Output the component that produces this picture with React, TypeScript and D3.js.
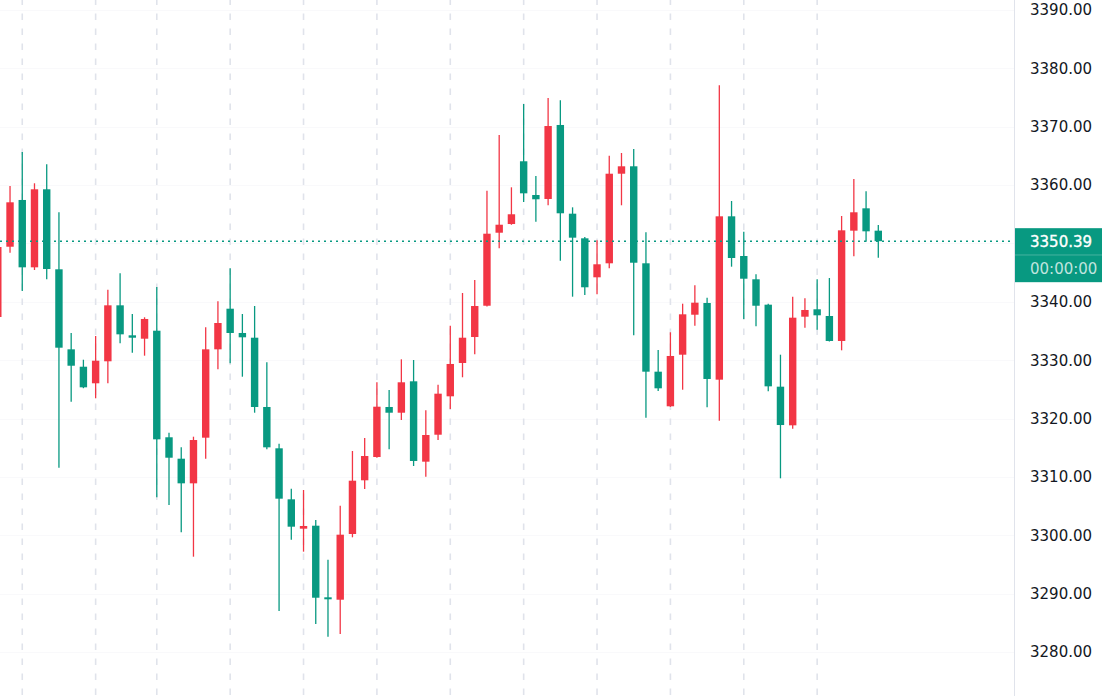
import React from 'react';
import * as d3 from 'd3';

const W = 1102;
const H = 696;

// OHLC series (red = up, green = down)
const openP = [
  3337.4, 3349.44, 3357.45, 3345.91, 3359.28, 3345.57, 3331.86, 3328.88, 3326.04, 3329.81,
  3339.4, 3334.26, 3333.68, 3335.05, 3316.79, 3313.12, 3308.9, 3316.72, 3331.86, 3338.82,
  3334.66, 3333.85, 3321.98, 3314.9, 3306.16, 3301.13, 3301.64, 3289.37, 3288.96, 3300.22,
  3309.42, 3313.41, 3321.98, 3321.0, 3326.38, 3312.61, 3317.23, 3323.81, 3329.52, 3333.97,
  3339.33, 3351.84, 3353.33, 3364.08, 3358.3, 3357.62, 3370.3, 3355.1, 3350.88, 3344.2,
  3346.6, 3361.95, 3363.22, 3346.6, 3328.03, 3322.1, 3330.94, 3337.79, 3339.8, 3326.66,
  3354.65, 3347.85, 3343.86, 3339.51, 3325.46, 3318.84, 3337.45, 3338.72, 3337.57, 3333.29,
  3352.19, 3356.02, 3352.19,
];
const highP = [
  3350.2, 3359.84, 3365.67, 3360.31, 3363.56, 3355.34, 3334.66, 3330.08, 3334.14, 3342.08,
  3344.89, 3337.91, 3337.35, 3342.54, 3317.57, 3315.07, 3316.89, 3335.63, 3340.09, 3345.74,
  3337.91, 3339.28, 3329.64, 3315.69, 3307.98, 3307.76, 3302.62, 3295.81, 3305.07, 3314.44,
  3316.67, 3326.21, 3324.89, 3330.15, 3330.03, 3321.41, 3325.8, 3335.91, 3341.51, 3343.74,
  3359.04, 3368.58, 3359.62, 3373.89, 3361.56, 3374.92, 3374.53, 3356.19, 3351.11, 3350.54,
  3365.04, 3365.5, 3366.18, 3351.91, 3331.74, 3334.78, 3339.68, 3342.83, 3340.71, 3377.1,
  3357.27, 3352.01, 3344.71, 3339.68, 3330.94, 3340.88, 3340.6, 3343.86, 3344.08, 3354.7,
  3361.04, 3358.94, 3353.16,
];
const lowP = [
  3337.2, 3348.42, 3341.85, 3345.45, 3343.86, 3311.58, 3322.89, 3325.2, 3323.47, 3326.04,
  3332.89, 3331.28, 3330.77, 3306.51, 3305.19, 3300.51, 3296.33, 3313.12, 3328.44, 3329.47,
  3327.17, 3321.0, 3314.73, 3287.02, 3299.24, 3297.19, 3284.8, 3282.62, 3283.08, 3299.65,
  3307.93, 3313.3, 3314.73, 3319.75, 3311.87, 3310.04, 3316.32, 3321.64, 3327.07, 3331.01,
  3339.2, 3349.17, 3353.2, 3357.1, 3353.73, 3356.54, 3347.05, 3340.88, 3341.17, 3341.29,
  3345.74, 3356.54, 3334.26, 3320.14, 3324.72, 3322.0, 3324.94, 3335.91, 3321.93, 3319.63,
  3346.02, 3337.06, 3335.81, 3324.67, 3309.76, 3318.26, 3335.57, 3335.22, 3333.2, 3331.69,
  3347.8, 3350.3, 3347.56,
];
const closeP = [
  3349.39, 3357.05, 3345.91, 3359.28, 3345.62, 3332.14, 3329.05, 3325.35, 3329.91, 3339.4,
  3334.43, 3333.85, 3337.06, 3316.44, 3313.29, 3308.9, 3316.32, 3331.86, 3336.37, 3334.66,
  3333.92, 3321.98, 3315.07, 3306.27, 3301.47, 3301.59, 3289.3, 3289.03, 3300.1, 3309.35,
  3313.58, 3322.03, 3321.0, 3326.21, 3312.73, 3317.18, 3324.26, 3329.35, 3333.85, 3339.28,
  3351.67, 3353.21, 3355.0, 3358.59, 3357.57, 3370.12, 3355.17, 3350.99, 3342.49, 3346.43,
  3361.95, 3363.22, 3346.7, 3328.03, 3325.18, 3330.72, 3337.86, 3339.85, 3326.78, 3354.65,
  3347.51, 3343.96, 3339.33, 3325.52, 3318.89, 3337.28, 3338.6, 3337.69, 3333.29, 3352.25,
  3355.34, 3352.08, 3350.39,
];

const priceTicks = [3280, 3290, 3300, 3310, 3320, 3330, 3340, 3350, 3360, 3370, 3380, 3390];
const gridBars = [2, 8, 13, 19, 25, 31, 37, 43, 49, 55, 61, 67];
const lastPrice = 3350.39;
const countdown = '00:00:00';

const UP = '#F23645';
const DOWN = '#089981';
const FONT = 'DejaVu Sans, sans-serif';

export default function App() {
  const n = openP.length;
  const x = d3.scaleLinear().domain([0, n - 1]).range([-2.2, 878.3]);
  const y = d3.scaleLinear().domain([3280, 3390]).range([652, 10]);
  const axisX = 1014.5;
  const bodyW = 7.4;
  const yl = y(lastPrice);
  const fmt = d3.format('.2f');
  const boxTop = yl - 13;
  const boxH = 54;
  // ticks hidden behind the last-price label are not drawn
  const visibleTicks = priceTicks.filter((p) => {
    const ty = y(p);
    return ty < boxTop - 8 || ty > boxTop + boxH + 8;
  });

  return (
    <svg
      width={W}
      height={H}
      style={{ position: 'absolute', left: 0, top: 0, background: '#ffffff' }}
    >
      <rect x={0} y={0} width={W} height={H} fill="#ffffff" />
      {/* faint horizontal grid */}
      {priceTicks.map((p) => (
        <line key={'h' + p} x1={0} x2={axisX} y1={Math.round(y(p)) + 0.5} y2={Math.round(y(p)) + 0.5} stroke="#f9f9fb" strokeWidth={1} />
      ))}
      {/* vertical dashed grid */}
      {gridBars.map((i) => (
        <line
          key={'v' + i}
          x1={x(i)}
          x2={x(i)}
          y1={0}
          y2={H}
          stroke="#e0e3eb"
          strokeWidth={1.6}
          strokeDasharray="6.5 8.5"
          strokeDashoffset={1.5}
        />
      ))}
      {/* candles */}
      {openP.map((o, i) => {
        const c = closeP[i];
        const col = c >= o ? UP : DOWN;
        const cx = x(i);
        const top = y(Math.max(o, c));
        const bot = y(Math.min(o, c));
        return (
          <g key={'c' + i}>
            <line x1={cx} x2={cx} y1={y(highP[i])} y2={y(lowP[i])} stroke={col} strokeWidth={1.3} />
            <rect x={cx - bodyW / 2} y={top} width={bodyW} height={Math.max(bot - top, 1.5)} fill={col} />
          </g>
        );
      })}
      {/* last price dotted line */}
      <line x1={0} x2={axisX} y1={yl} y2={yl} stroke={DOWN} strokeWidth={1.6} strokeDasharray="2 4" />
      {/* price axis */}
      <rect x={axisX} y={0} width={W - axisX} height={H} fill="#ffffff" />
      <line x1={axisX} x2={axisX} y1={0} y2={H} stroke="#e0e3eb" strokeWidth={1} />
      {visibleTicks.map((p) => (
        <text
          key={'t' + p}
          x={1030}
          y={y(p)}
          dy="0.36em"
          fontFamily={FONT}
          fontSize={15}
          fill="#131722"
        >
          {fmt(p)}
        </text>
      ))}
      {/* last price label */}
      <rect x={axisX + 0.5} y={boxTop} width={W - axisX} height={boxH} fill={DOWN} />
      <line x1={axisX + 0.5} x2={W} y1={yl + 13.8} y2={yl + 13.8} stroke="#ffffff" strokeOpacity={0.25} strokeWidth={1} />
      <text x={1030} y={yl} dy="0.36em" fontFamily={FONT} fontSize={15} fill="#ffffff" stroke="#ffffff" strokeWidth={0.35}>
        {fmt(lastPrice)}
      </text>
      <text x={1030} y={yl + 27.5} dy="0.36em" fontFamily={FONT} fontSize={15} fill="#ffffff" fillOpacity={0.75}>
        {countdown}
      </text>
    </svg>
  );
}
